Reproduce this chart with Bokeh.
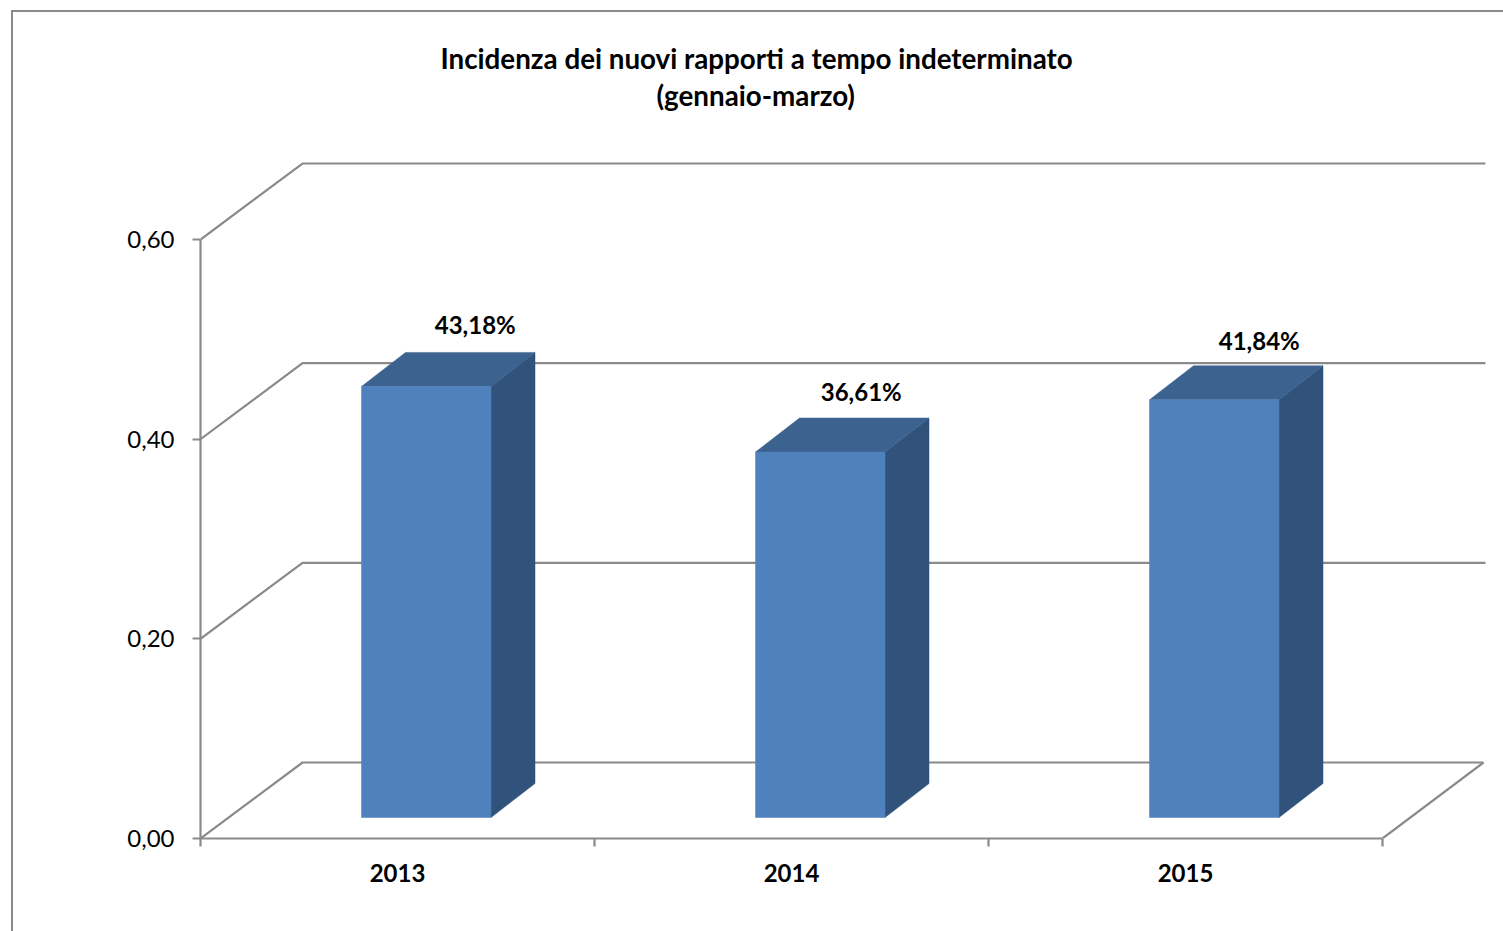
from bokeh.plotting import figure
from bokeh.embed import file_html
from bokeh.resources import INLINE
from bokeh.models import FixedTicker, Range1d, Title, LinearAxis
from bokeh.core.properties import value

# --- data ---
CATEGORIES = ["2013", "2014", "2015"]
VALUES = [0.4318, 0.3661, 0.4184]
Y_TICKS = [0.0, 0.2, 0.4, 0.6]
Y_TICK_LABELS = ["0,00", "0,20", "0,40", "0,60"]
TITLE_LINE_1 = "Incidenza dei nuovi rapporti a tempo indeterminato"
TITLE_LINE_2 = "(gennaio-marzo)"

# --- drawing style ---
FONT = "Lato"
GREY = "#8a8a8a"
LW = 2.2
FRONT, TOP, SIDE = "#4f81bd", "#3c6290", "#31527a"
PX_X, PX_Y = 394.0, 998.3               # pixels per category slot / per value unit
WALL_DX, WALL_DY = 102 / PX_X, 76 / PX_Y
BAR_DX, BAR_DY = 44 / PX_X, 34 / PX_Y
BAR_LEFT, BAR_W = 161 / PX_X, 129.5 / PX_X
BAR_LIFT = 21 / PX_Y
LABEL_DX = [49 / PX_X, 41 / PX_X, 45 / PX_X]
LABEL_DY = [62 / PX_Y, 61 / PX_Y, 59 / PX_Y]
GRID_RIGHT = 1285 / PX_X
FLOOR_RIGHT = 1283 / PX_X

# canvas starts just inside the frame border drawn with CSS
ORIGIN_X, ORIGIN_Y = 13, 12
W, H = 1503 - ORIGIN_X + 2, 931 - ORIGIN_Y + 2
L, T = 200 - ORIGIN_X, 112 - ORIGIN_Y
R, B = W - L - (1290), H - T - (838 - 112)
n = len(CATEGORIES)

p = figure(width=W, height=H, output_backend="svg", toolbar_location=None,
           x_range=Range1d(0, (W - L - R) / PX_X),
           y_range=Range1d(0, (H - T - B) / PX_Y),
           min_border_left=L, min_border_right=R, min_border_top=T, min_border_bottom=B,
           x_axis_type=None, y_axis_type=None,
           background_fill_color="white", border_fill_color="white", outline_line_color=None)
p.xgrid.visible = False
p.ygrid.visible = False
p.styles = {"margin-left": f"{ORIGIN_X - 2}px", "margin-top": f"{ORIGIN_Y - 2}px",
            "border-left": f"2px solid {GREY}", "border-top": f"2px solid {GREY}"}

# axes
yaxis = LinearAxis(ticker=FixedTicker(ticks=Y_TICKS), bounds=(0, Y_TICKS[-1]),
                   major_label_overrides=dict(zip(Y_TICKS, Y_TICK_LABELS)),
                   major_label_text_font=FONT, major_label_text_font_size="24px",
                   major_label_text_color="black", major_label_standoff=18,
                   axis_line_color=GREY, axis_line_width=LW,
                   major_tick_line_color=GREY, major_tick_line_width=LW,
                   major_tick_in=0, major_tick_out=8, minor_tick_line_color=None)
p.add_layout(yaxis, "left")

slot_mid = [i + 0.5 for i in range(n)]
slot_edges = [float(i) for i in range(n + 1)]
xaxis = LinearAxis(ticker=FixedTicker(ticks=slot_mid, minor_ticks=slot_edges), bounds=(0, n),
                   major_label_overrides=dict(zip(slot_mid, CATEGORIES)),
                   major_label_text_font=FONT, major_label_text_font_size="24px",
                   major_label_text_font_style="bold", major_label_text_color="black",
                   major_label_standoff=17,
                   axis_line_color=GREY, axis_line_width=LW,
                   major_tick_line_color=None, major_tick_in=0, major_tick_out=0,
                   minor_tick_line_color=GREY, minor_tick_line_width=LW,
                   minor_tick_in=0, minor_tick_out=8)
p.add_layout(xaxis, "below")

# wall grid lines and floor
for v in Y_TICKS:
    right = FLOOR_RIGHT if v == 0 else GRID_RIGHT
    p.line([0, WALL_DX, right], [v, v + WALL_DY, v + WALL_DY],
           line_color=GREY, line_width=LW, line_join="round")
p.line([FLOOR_RIGHT, n], [WALL_DY, 0], line_color=GREY, line_width=LW)

# 3-D bars
lefts = [i + BAR_LEFT for i in range(n)]
rights = [x + BAR_W for x in lefts]
tops = [v + BAR_LIFT for v in VALUES]

p.patches([[r, r + BAR_DX, r + BAR_DX, r] for r in rights],
          [[BAR_LIFT, BAR_LIFT + BAR_DY, t + BAR_DY, t] for t in tops],
          fill_color=SIDE, line_color=SIDE, line_width=0.5)
p.patches([[l, l + BAR_DX, r + BAR_DX, r] for l, r in zip(lefts, rights)],
          [[t, t + BAR_DY, t + BAR_DY, t] for t in tops],
          fill_color=TOP, line_color=TOP, line_width=0.5)
p.quad(left=lefts, right=rights, bottom=BAR_LIFT, top=tops,
       fill_color=FRONT, line_color=FRONT, line_width=0.5)

# value labels
labels = [f"{v * 100:.2f}%".replace(".", ",") for v in VALUES]
p.text([x + BAR_W / 2 + d for x, d in zip(lefts, LABEL_DX)],
       [t + d for t, d in zip(tops, LABEL_DY)],
       text=labels, text_font=value(FONT), text_font_size="24px", text_font_style="bold",
       text_color="black", text_align="center", text_baseline="middle")

# title, two lines
line2 = Title(text=TITLE_LINE_2, align="left", offset=456, standoff=1, text_font=FONT,
              text_font_size="27.75px", text_font_style="bold", text_color="black")
line1 = Title(text=TITLE_LINE_1, align="left", offset=240, standoff=3, text_font=FONT,
              text_font_size="27.75px", text_font_style="bold", text_color="black")
p.add_layout(line2, "above")
p.add_layout(line1, "above")

open("out.html", "w").write(file_html(p, INLINE))
